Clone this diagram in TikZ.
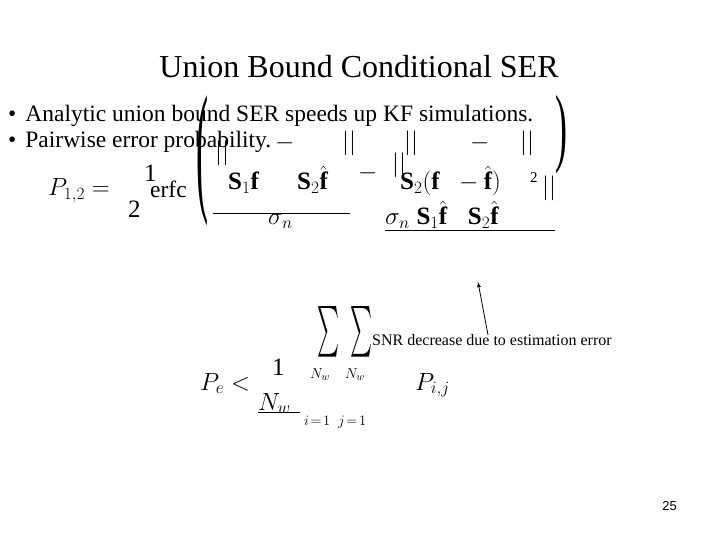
\documentclass[tikz,border=0pt]{standalone}
\usepackage{fontspec}
\usepackage{graphicx}
\setmainfont{Liberation Serif}
\newfontfamily\numfont{Liberation Sans}
\begin{document}
\begin{tikzpicture}[x=1pt,y=-1pt,
  t/.style={inner sep=0pt,anchor=base west,font=\fontsize{23.5}{24}\selectfont},
  m/.style={inner sep=0pt,anchor=base west,font=\fontsize{25}{25}\selectfont},
  s/.style={inner sep=0pt,anchor=base west,font=\fontsize{15}{15}\selectfont},
  bar/.style={line width=0.8pt}]
\useasboundingbox[fill=white] (0,0) rectangle (720,540);
\node[inner sep=0pt,anchor=base,font=\fontsize{32}{32}\selectfont] (title) at (359,78) {Union Bound Conditional SER};
\node[t] (b1) at (8,122) {•\hspace{9pt}Analytic union bound SER speeds up KF simulations.};
\node[t] (b2) at (8,148) {•\hspace{9pt}Pairwise error probability.};
\node[inner sep=0pt,anchor=north west] (lp) at (196,95) {\resizebox{12pt}{100pt}{\fontsize{20}{20}\selectfont(}};
\node[inner sep=0pt,anchor=north west] (rp) at (555,95) {\resizebox{12pt}{60pt}{\fontsize{20}{20}\selectfont)}};
\node[m] (p12) at (48,196) {$P_{1,2}=$};
\node[m] (one) at (144,182) {1};
\node[m] (two) at (128,218) {2};
\node[t] (erfc) at (150,198) {erfc};
\node[m] (s1f) at (228,190) {$\mathbf{S}_1\mathbf{f}$};
\node[m] (s2f) at (297,190) {$\mathbf{S}_2\hat{\mathbf{f}}$};
\node[m] (minus) at (358,180) {$-$};
\node[m] (s2ff) at (400,190) {$\mathbf{S}_2(\mathbf{f}\;\;-\hat{\mathbf{f}})$};
\node[s] (sq) at (530,183) {2};
\node[m] (sig1) at (268,225) {$\sigma_n$};
\node[m] (sig2) at (385,225) {$\sigma_n\;\mathbf{S}_1\hat{\mathbf{f}}\;\;\;\mathbf{S}_2\hat{\mathbf{f}}$};
\foreach \x/\y in {215/160,342/150,404/150,520/150,542/195,392/172} \node[m] (v\x) at (\x,\y) {$||$};
\node[m] (bm1) at (275,150) {$-$};
\node[m] (bm2) at (470,150) {$-$};
\coordinate (l1a) at (213,213); \coordinate (l1b) at (350,213);
\draw[bar] (l1a) -- (l1b);
\coordinate (l2a) at (385,230); \coordinate (l2b) at (555,230);
\draw[bar] (l2a) -- (l2b);
\coordinate (ar0) at (488,335); \coordinate (ar1) at (478,282);
\draw[bar,-latex] (ar0) -- (ar1);
\node[inner sep=0pt,anchor=base west,font=\fontsize{16}{16}\selectfont] (snr) at (372,345) {SNR decrease due to estimation error};
\node[m] (pe) at (200,390) {$P_e<$};
\node[m] (one2) at (272,375) {1};
\node[m] (nw) at (258,410) {$N_{w}$};
\draw[bar] (258,412) -- (300,412);
\node[inner sep=0pt,anchor=south west] (sum1) at (317,357) {\resizebox{22pt}{38pt}{$\sum$}};
\node[inner sep=0pt,anchor=south west] (sum2) at (350,357) {\resizebox{22pt}{38pt}{$\sum$}};
\node[s] (nw1) at (310,378) {$N_w$};
\node[s] (nw2) at (345,378) {$N_w$};
\node[m] (pij) at (415,390) {$P_{i,j}$};
\node[s] (idx) at (304,425) {$i\!=\!1\;\;j\!=\!1$};
\node[inner sep=0pt,anchor=base east,font=\numfont\fontsize{13}{13}\selectfont] (pg) at (677,510) {25};
\end{tikzpicture}
\end{document}
